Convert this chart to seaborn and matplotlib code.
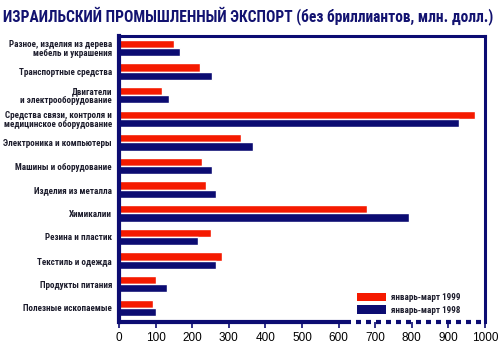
import matplotlib
matplotlib.use("Agg")
import matplotlib.pyplot as plt
from matplotlib import font_manager
import seaborn as sns
import pandas as pd
from matplotlib.patches import Patch

categories = [
    "Разное, изделия из дерева\nмебель и украшения",
    "Транспортные средства",
    "Двигатели\nи электрооборудование",
    "Средства связи, контроля и\nмедицинское оборудование",
    "Электроника и компьютеры",
    "Машины и оборудование",
    "Изделия из металла",
    "Химикалии",
    "Резина и пластик",
    "Текстиль и одежда",
    "Продукты питания",
    "Полезные ископаемые",
]
exports_1999 = [150, 221, 117, 972, 334, 227, 238, 677, 252, 282, 101, 93]
exports_1998 = [166, 253, 137, 930, 367, 254, 266, 792, 216, 266, 131, 101]
periods = ["январь-март 1999", "январь-март 1998"]
x_ticks = list(range(0, 1001, 100))
title = "ИЗРАИЛЬСКИЙ ПРОМЫШЛЕННЫЙ ЭКСПОРТ (без бриллиантов, млн. долл.)"

RED = "#f51a00"
NAVY = "#0c0c72"
TEXT = "#1c1c2c"


def pick_family(candidates):
    for name in candidates:
        try:
            font_manager.findfont(font_manager.FontProperties(family=name),
                                  fallback_to_default=False)
            return name
        except Exception:
            continue
    return "DejaVu Sans"


NARROW = pick_family(["Liberation Sans Narrow", "Roboto Condensed", "Open Sans Condensed",
                      "DejaVu Sans"])

df = pd.DataFrame({
    "category": categories * 2,
    "value": exports_1999 + exports_1998,
    "period": [periods[0]] * len(categories) + [periods[1]] * len(categories),
})

sns.set_theme(style="white")
plt.rcParams["font.family"] = [NARROW, "DejaVu Sans"]
plt.rcParams["font.stretch"] = "condensed"

fig = plt.figure(figsize=(5.0, 3.47), dpi=100)
ax = fig.add_axes([0.238, 0.072, 0.732, 0.824])

sns.barplot(data=df, y="category", x="value", hue="period", hue_order=periods,
            order=categories, palette=[RED, NAVY], orient="h", width=0.7,
            saturation=1, legend=False, ax=ax)

ax.set_xlim(0, 1000)
ax.set_ylim(11.6, -0.5)
ax.set_xticks(x_ticks)
ax.set_xticklabels([str(t) for t in x_ticks], fontsize=8.5, color="black",
                   family=["Liberation Sans", "DejaVu Sans"], fontstretch="normal")
ax.tick_params(axis="x", direction="out", length=4, width=1.2, color=NAVY, pad=3, bottom=True)
ax.tick_params(axis="y", length=0, pad=5)
ylabels = ax.get_yticklabels()
for lab in ylabels:
    lab.set_fontsize(6.5)
    lab.set_fontweight("bold")
    lab.set_color(TEXT)
    lab.set_horizontalalignment("right")
    lab.set_multialignment("right")
    lab.set_linespacing(1.0)
ax.set_xlabel("")
ax.set_ylabel("")

for side in ("top", "right"):
    ax.spines[side].set_color(NAVY)
    ax.spines[side].set_linewidth(2.2)
ax.spines["left"].set_color(NAVY)
ax.spines["left"].set_linewidth(3)
ax.spines["bottom"].set_visible(False)
trans = ax.get_xaxis_transform()
ax.plot([0, 620], [0, 0], transform=trans, color=NAVY, lw=3, clip_on=False, solid_capstyle="butt")
ax.plot([620, 1000], [0, 0], transform=trans, color=NAVY, lw=3, clip_on=False,
        linestyle=(0, (1.2, 1.2)), solid_capstyle="butt")

handles = [Patch(facecolor=RED, edgecolor="none"), Patch(facecolor=NAVY, edgecolor="none")]
leg = ax.legend(handles, periods, loc="lower left", bbox_to_anchor=(0.63, 0.0), frameon=False,
                handlelength=3.2, handleheight=1.1, handletextpad=0.6, labelspacing=0.35,
                borderpad=0.3, prop={"size": 6.5, "weight": "bold"}, labelcolor=TEXT)

ttl = fig.text(0.006, 0.955, title, fontsize=11.5, fontweight="bold", color="#121270",
               ha="left", va="center")

# shrink the heading and the category labels until they fit their space
fig.canvas.draw()
renderer = fig.canvas.get_renderer()
w = ttl.get_window_extent(renderer).width
ttl.set_fontsize(11.5 * min(1.0, 494.0 / w))
widest = max(l.get_window_extent(renderer).width for l in ylabels)
scale = min(1.0, 112.0 / widest)
for lab in ylabels:
    lab.set_fontsize(6.5 * scale)
leg_w = max(t.get_window_extent(renderer).width for t in leg.get_texts())
if leg_w > 75:
    for t in leg.get_texts():
        t.set_fontsize(6.5 * 75.0 / leg_w)

fig.savefig("out.png", dpi=100)
